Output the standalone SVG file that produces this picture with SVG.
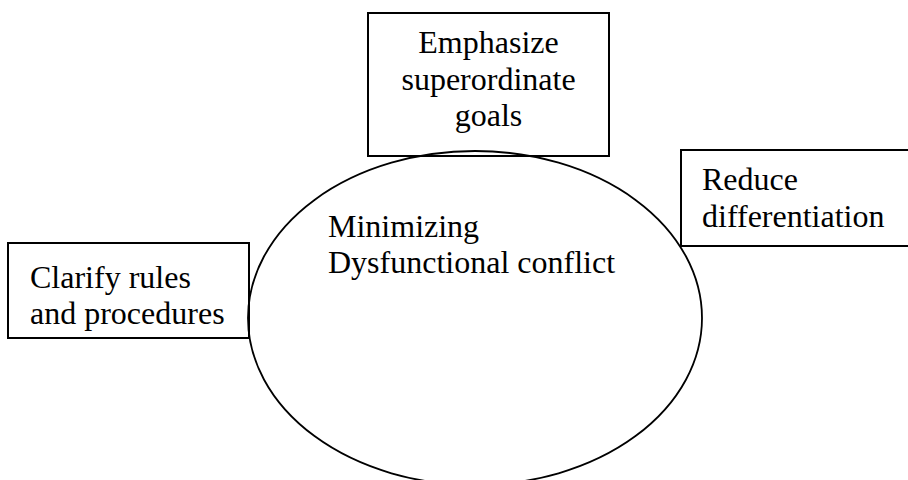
<svg xmlns="http://www.w3.org/2000/svg" width="908" height="480" viewBox="0 0 908 480">
<style>
.box{fill:none;stroke:#000;stroke-width:2}
.ell{fill:none;stroke:#000;stroke-width:1.8}
text{font-family:"Liberation Serif","Times New Roman",serif;font-size:32px;fill:#000}
</style>
<rect width="908" height="480" fill="#fff"/>
<g id="center">
<ellipse class="ell" cx="475" cy="318" rx="227" ry="167"/>
<text x="328" y="237">Minimizing</text>
<text x="328" y="273">Dysfunctional conflict</text>
</g>
<g id="top">
<rect class="box" x="368" y="13" width="241" height="143"/>
<text x="488.5" y="53" text-anchor="middle">Emphasize</text>
<text x="488.5" y="90" text-anchor="middle">superordinate</text>
<text x="488.5" y="126" text-anchor="middle">goals</text>
</g>
<g id="right">
<rect class="box" x="681" y="150" width="240" height="96"/>
<text x="702" y="190">Reduce</text>
<text x="702" y="227">differentiation</text>
</g>
<g id="left">
<rect class="box" x="8" y="243" width="241" height="95"/>
<text x="30" y="288">Clarify rules</text>
<text x="30" y="324">and procedures</text>
</g>
<g id="connectors"></g>
</svg>
